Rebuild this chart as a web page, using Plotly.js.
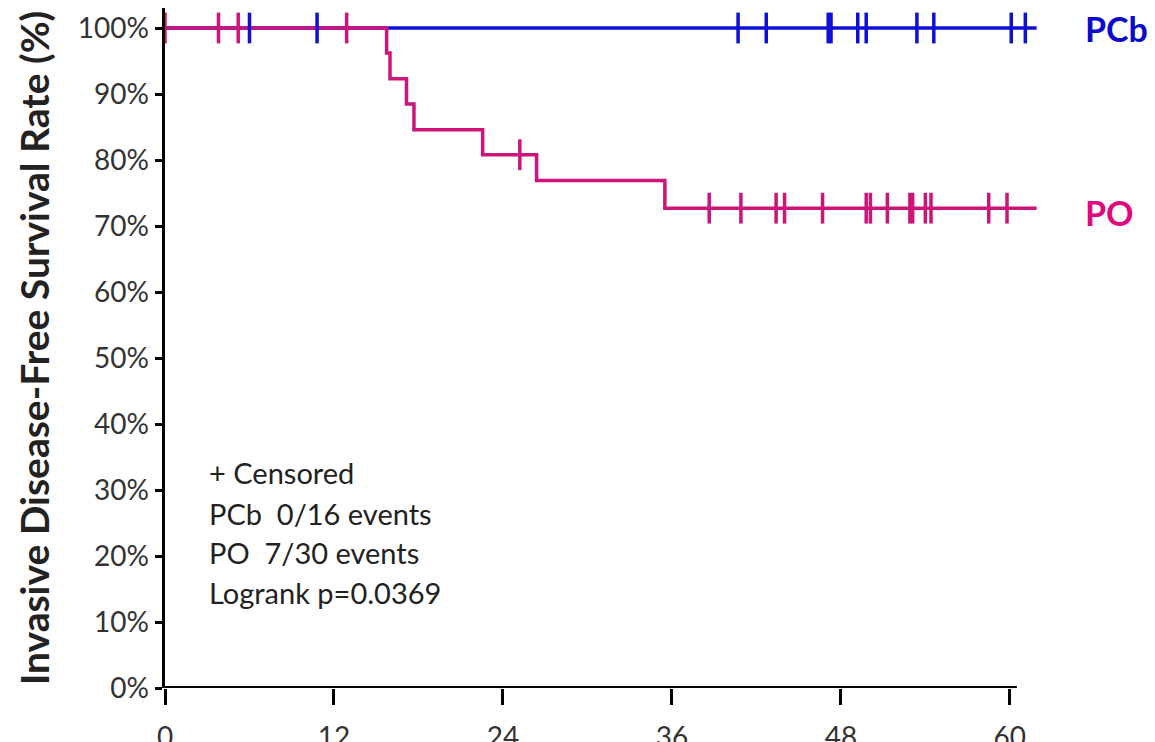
<!DOCTYPE html>
<html>
<head>
<meta charset="utf-8">
<script src="https://cdn.plot.ly/plotly-3.0.1.min.js"></script>
<style>html,body{margin:0;padding:0;background:#fff;}#chart{width:1155px;height:742px;}</style>
</head>
<body>
<div id="chart"></div>
<script>
// Kaplan-Meier step curves (months, % survival)
var pcbTimes = [0, 61.9];
var pcbSurv = [100, 100];
var poTimes = [0, 15.74, 15.98, 17.15, 17.68, 22.56, 26.39, 35.5, 61.9];
var poSurv = [100, 96.2, 92.3, 88.5, 84.6, 80.8, 76.9, 72.7, 72.7];

// Censored observations
var pcbCensorTimes = [6.0, 10.8, 40.7, 42.7, 47.1, 47.3, 49.2, 49.8, 53.4, 54.6, 60.1, 61.1];
var pcbCensorSurv = [100, 100, 100, 100, 100, 100, 100, 100, 100, 100, 100, 100];
var poCensorTimes = [0, 3.8, 5.2, 12.9, 25.2, 38.65, 40.9, 43.4, 44.0, 46.7, 49.8, 50.1, 51.3, 52.9, 53.1, 54.0, 54.4, 58.5, 59.8];
var poCensorSurv = [100, 100, 100, 100, 80.8, 72.7, 72.7, 72.7, 72.7, 72.7, 72.7, 72.7, 72.7, 72.7, 72.7, 72.7, 72.7, 72.7, 72.7];

var xTicks = [0, 12, 24, 36, 48, 60];
var yTicks = [0, 10, 20, 30, 40, 50, 60, 70, 80, 90, 100];
var yTickLabels = ['0%', '10%', '20%', '30%', '40%', '50%', '60%', '70%', '80%', '90%', '100%'];

var legendLines = ['+ Censored', 'PCb  0/16 events', 'PO  7/30 events', 'Logrank p=0.0369'];
var legendY = [32.7, 26.5, 20.6, 14.4];

var blue = '#0f0fd6';
var pink = '#cc1479';
var font = 'Lato, "Open Sans", sans-serif';

var traces = [
  {x: pcbTimes, y: pcbSurv, mode: 'lines', line: {shape: 'hv', color: blue, width: 3.5}, name: 'PCb', hoverinfo: 'skip'},
  {x: poTimes, y: poSurv, mode: 'lines', line: {shape: 'hv', color: pink, width: 3.5}, name: 'PO', hoverinfo: 'skip'},
  {x: pcbCensorTimes, y: pcbCensorSurv, mode: 'markers', marker: {symbol: 'line-ns', size: 22, line: {width: 3.5, color: blue}}, name: 'PCb censored'},
  {x: poCensorTimes, y: poCensorSurv, mode: 'markers', marker: {symbol: 'line-ns', size: 22, line: {width: 3.5, color: pink}}, name: 'PO censored'}
];

var annotations = legendLines.map(function (t, i) {
  return {x: 2.98, y: legendY[i], xref: 'x', yref: 'y', text: t, showarrow: false,
    xanchor: 'left', yanchor: 'middle', font: {family: font, size: 29, color: '#222'}};
});
annotations.push({x: 1.052, y: 100, xref: 'paper', yref: 'y', text: '<b>PCb</b>', showarrow: false,
  xanchor: 'left', yanchor: 'middle', font: {family: font, size: 34, color: '#0a0acc'}});
annotations.push({x: 1.052, y: 72, xref: 'paper', yref: 'y', text: '<b>PO</b>', showarrow: false,
  xanchor: 'left', yanchor: 'middle', font: {family: font, size: 34, color: '#e0087c'}});

var layout = {
  width: 1155, height: 742,
  margin: {l: 165, r: 117, t: 8, b: 54},
  paper_bgcolor: '#fff', plot_bgcolor: '#fff',
  showlegend: false,
  xaxis: {
    range: [0, 62], tickvals: xTicks, ticktext: xTicks.map(String),
    showgrid: false, zeroline: false, showline: false,
    ticks: 'outside', ticklen: 16, tickwidth: 3, tickcolor: '#000',
    tickfont: {family: font, size: 28, color: '#333'}, ticklabelstandoff: 8
  },
  yaxis: {
    range: [0, 103.03], tickvals: yTicks, ticktext: yTickLabels,
    showgrid: false, zeroline: false, showline: true, linecolor: '#000', linewidth: 3.5,
    ticks: 'outside', ticklen: 7, tickwidth: 3, tickcolor: '#000',
    tickfont: {family: font, size: 28, color: '#333'},
    title: {text: '<b>Invasive Disease-Free Survival Rate (%)</b>', standoff: 17,
      font: {family: font, size: 39, color: '#222'}}
  },
  shapes: [
    {type: 'line', xref: 'x', yref: 'y', x0: -0.1, x1: 60.5, y0: 0, y1: 0, line: {color: '#000', width: 4}, layer: 'above'}
  ],
  annotations: annotations
};

Plotly.newPlot('chart', traces, layout, {displayModeBar: false, staticPlot: true});
</script>
</body>
</html>
